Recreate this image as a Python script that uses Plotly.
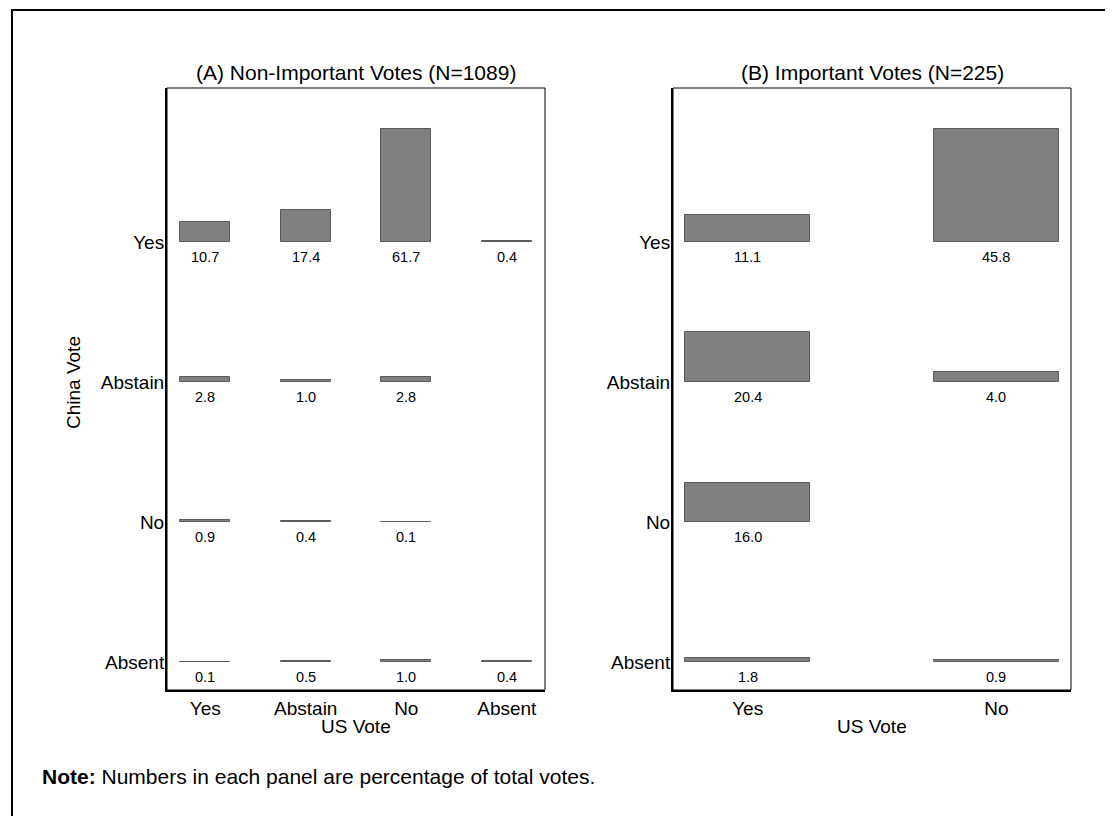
import plotly.graph_objects as go

# ---------------- data ----------------
china_votes = ["Yes", "Abstain", "No", "Absent"]          # rows (y)
us_votes_a = ["Yes", "Abstain", "No", "Absent"]           # columns panel A
us_votes_b = ["Yes", "No"]                                # columns panel B

# percentage of total votes; None = no such combination
pct_a_yes = [10.7, 17.4, 61.7, 0.4]
pct_a_abstain = [2.8, 1.0, 2.8, None]
pct_a_no = [0.9, 0.4, 0.1, None]
pct_a_absent = [0.1, 0.5, 1.0, 0.4]

pct_b_yes = [11.1, 45.8]
pct_b_abstain = [20.4, 4.0]
pct_b_no = [16.0, None]
pct_b_absent = [1.8, 0.9]

title_a = "(A) Non-Important Votes (N=1089)"
title_b = "(B) Important Votes (N=225)"
x_title = "US Vote"
y_title = "China Vote"
note_text = "<b>Note:</b> Numbers in each panel are percentage of total votes."

# ---------------- figure ----------------
W, H = 1113, 816
FONT = "Liberation Sans, Arial, sans-serif"
FILL = "#808080"
EDGE = "#5c5c5c"
MAXH = 0.807  # height (in row units) of the largest bar in each panel
TICK_SIZE = 19
TITLE_SIZE = 21
VALUE_SIZE = 14.5
NOTE_SIZE = 21

row_pos = {"Yes": 3, "Abstain": 2, "No": 1, "Absent": 0}

fig = go.Figure()
annotations = []


def add_panel(rows, xa, ya):
    vmax = max(v for r in rows for v in r if v is not None)
    xs, bases, hs = [], [], []
    for cname, r in zip(china_votes, rows):
        for j, v in enumerate(r):
            if v is None:
                continue
            xs.append(j + 1)
            bases.append(row_pos[cname])
            hs.append(v / vmax * MAXH)
            annotations.append(dict(
                x=j + 1, y=row_pos[cname], xref=xa, yref=ya,
                text=f"{v:.1f}", showarrow=False, xanchor="center",
                yanchor="top", yshift=-5,
                font=dict(size=VALUE_SIZE, color="black", family=FONT)))
    fig.add_trace(go.Bar(
        x=xs, y=hs, base=bases, width=0.5, xaxis=xa, yaxis=ya,
        marker=dict(color=FILL, line=dict(color=EDGE, width=1)),
        showlegend=False, hoverinfo="skip"))


add_panel([pct_a_yes, pct_a_abstain, pct_a_no, pct_a_absent], "x", "y")
add_panel([pct_b_yes, pct_b_abstain, pct_b_no, pct_b_absent], "x2", "y2")

# panel geometry in pixels (figure coordinates)
BOX_TOP, BOX_BOTTOM = 80, 682
dom_y = [(H - BOX_BOTTOM) / H, (H - BOX_TOP) / H]
dom_xa = [159 / W, 537 / W]
dom_xb = [665 / W, 1063 / W]

axis_common = dict(showgrid=False, zeroline=False, ticks="",
                   showline=True, linecolor="black", linewidth=2,
                   tickfont=dict(size=TICK_SIZE, color="black", family=FONT))
yvals = [row_pos[c] for c in china_votes]

fig.update_layout(
    width=W, height=H, margin=dict(l=0, r=0, t=0, b=0),
    paper_bgcolor="white", plot_bgcolor="white",
    font=dict(family=FONT, color="black"),
    xaxis=dict(domain=dom_xa, range=[0.62, 4.38], tickvals=[1, 2, 3, 4],
               ticktext=us_votes_a, anchor="y", ticklabelstandoff=0,
               **axis_common),
    yaxis=dict(domain=dom_y, range=[-0.2, 4.1], anchor="x",
               tickvals=yvals, ticktext=china_votes,
               ticklabelstandoff=-3, **axis_common),
    xaxis2=dict(domain=dom_xb, range=[0.7, 2.3], tickvals=[1, 2],
                ticktext=us_votes_b, anchor="y2", ticklabelstandoff=0,
                **axis_common),
    yaxis2=dict(domain=dom_y, range=[-0.2, 4.1], anchor="x2",
                tickvals=yvals, ticktext=china_votes,
                ticklabelstandoff=-3, **axis_common),
    bargap=0,
)

# thin top/right borders of each panel
for xr, yr in [("x", "y"), ("x2", "y2")]:
    fig.add_shape(type="rect", xref=f"{xr} domain", yref=f"{yr} domain",
                  x0=0, x1=1, y0=0, y1=1, line=dict(color="black", width=1),
                  fillcolor="rgba(0,0,0,0)", layer="above")

# outer frame (only left and top edges fall inside the page)
fig.add_shape(type="rect", xref="paper", yref="paper",
              x0=4 / W, x1=1.03, y0=-0.03, y1=(H - 2) / H,
              line=dict(color="black", width=2))


def paper_text(xpx, ypx, text, size, **kw):
    d = dict(x=xpx / W, y=(H - ypx) / H, xref="paper", yref="paper",
             text=text, showarrow=False, xanchor="center", yanchor="middle",
             font=dict(size=size, family=FONT, color="black"))
    d.update(kw)
    annotations.append(d)


cxa = (dom_xa[0] + dom_xa[1]) / 2 * W
cxb = (dom_xb[0] + dom_xb[1]) / 2 * W
paper_text(cxa, 64, title_a, TITLE_SIZE)
paper_text(cxb, 64, title_b, TITLE_SIZE)
paper_text(cxa, 718, x_title, TICK_SIZE)
paper_text(cxb, 718, x_title, TICK_SIZE)
paper_text(65, 375, y_title, TICK_SIZE, textangle=-90)
paper_text(32, 768, note_text, NOTE_SIZE, xanchor="left")

fig.update_layout(annotations=annotations)
fig.write_html("out.html")
